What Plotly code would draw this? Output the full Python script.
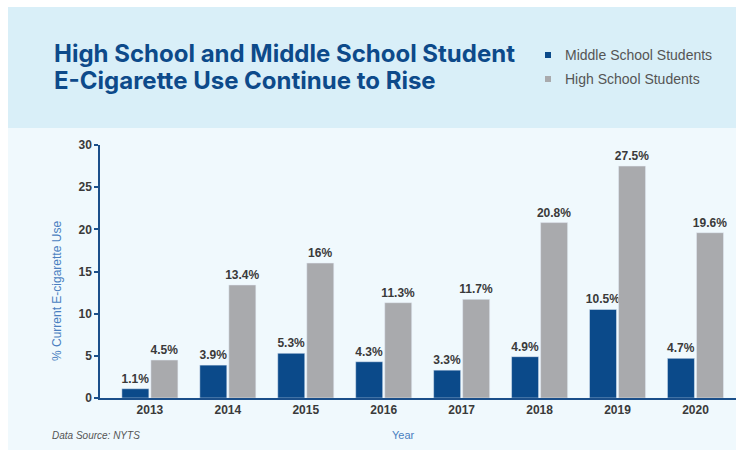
import plotly.graph_objects as go

years = ["2013", "2014", "2015", "2016", "2017", "2018", "2019", "2020"]
middle_school = [1.1, 3.9, 5.3, 4.3, 3.3, 4.9, 10.5, 4.7]
high_school = [4.5, 13.4, 16, 11.3, 11.7, 20.8, 27.5, 19.6]
middle_labels = ["1.1%", "3.9%", "5.3%", "4.3%", "3.3%", "4.9%", "10.5%", "4.7%"]
high_labels = ["4.5%", "13.4%", "16%", "11.3%", "11.7%", "20.8%", "27.5%", "19.6%"]
series_names = ["Middle School Students", "High School Students"]
title_lines = ["High School and Middle School Student", "E-Cigarette Use Continue to Rise"]
y_ticks = [0, 5, 10, 15, 20, 25, 30]

# figure fills the page (body margin removed)
W, H = 736, 453
PL, PR, PT, PB = 100, 736, 145, 398   # plot area in pixels
L, T, R, B = PL, PT, W - PR, H - PB
PW, PH = W - L - R, H - T - B

def px(x):
    return (x - L) / PW

def py(y):
    return (H - B - y) / PH

BLUE = "#0b4a8a"
GRAY = "#a9aaad"
LABEL = "#3a3a3a"
AXIS = "#1b4f8a"

fig = go.Figure()
for vals, labels, color, name in [(middle_school, middle_labels, BLUE, series_names[0]),
                                  (high_school, high_labels, GRAY, series_names[1])]:
    fig.add_trace(go.Bar(x=years, y=vals, marker_color=color, text=labels, name=name,
                         textposition="outside", cliponaxis=False, showlegend=False,
                         constraintext="none", textangle=0,
                         textfont=dict(family="Arial", size=12, color=LABEL, weight="bold")))

shapes = [
    dict(type="rect", xref="paper", yref="paper", x0=px(8), x1=px(736), y0=py(7), y1=py(128),
         fillcolor="#d9eff8", line_width=0, layer="below"),
    dict(type="rect", xref="paper", yref="paper", x0=px(8), x1=px(736), y0=py(128), y1=py(450),
         fillcolor="#f0f9fd", line_width=0, layer="below"),
]

title_html = "<br>".join("<span style='font-size:24px'>%s</span>" % t for t in title_lines)
annotations = [
    dict(x=px(52), y=py(67), xref="paper", yref="paper", xanchor="left", yanchor="middle",
         showarrow=False, align="left", text="<b>" + title_html + "</b>",
         font=dict(family="Inter", size=21, color="#0d4a8a")),
    dict(x=px(57), y=py(291), xref="paper", yref="paper", textangle=-90, showarrow=False,
         xanchor="center", yanchor="middle",
         text="% Current E-cigarette Use", font=dict(family="Arial", size=12, color="#4a7fc0")),
    dict(x=px(403), y=py(435), xref="paper", yref="paper", showarrow=False,
         xanchor="center", yanchor="middle",
         text="Year", font=dict(family="Arial", size=11, color="#4a7fc0")),
    dict(x=px(50), y=py(435), xref="paper", yref="paper", xanchor="left", yanchor="middle",
         showarrow=False,
         text="<i>Data Source: NYTS</i>", font=dict(family="Arial", size=10, color="#555555")),
]

# legend built from shapes + annotations
for i, (name, color) in enumerate(zip(series_names, [BLUE, GRAY])):
    yc = 55 + i * 24
    shapes.append(dict(type="rect", xref="paper", yref="paper", x0=px(545), x1=px(551),
                       y0=py(yc + 3), y1=py(yc - 3), fillcolor=color, line_width=0))
    annotations.append(dict(x=px(563), y=py(yc), xref="paper", yref="paper", xanchor="left",
                            yanchor="middle", showarrow=False, text=name,
                            font=dict(family="Arial", size=14, color="#555555")))

fig.update_layout(
    width=W, height=H,
    margin=dict(l=L, r=R, t=T, b=B),
    paper_bgcolor="white", plot_bgcolor="rgba(0,0,0,0)",
    barmode="group", bargap=0.255, bargroupgap=0.07,
    shapes=shapes, annotations=annotations,
    showlegend=False,
    font=dict(family="Arial"),
)
fig.update_xaxes(type="category", range=[-0.64, 7.52], showline=True, linecolor=AXIS,
                 linewidth=1.5, showgrid=False, ticks="",
                 tickfont=dict(family="Arial", size=12, color=LABEL, weight="bold"))
fig.update_yaxes(range=[0, 30], tickvals=y_ticks, showline=True, linecolor=AXIS,
                 linewidth=1.5, showgrid=False, zeroline=False, ticks="outside", ticklen=4,
                 tickcolor=AXIS, tickwidth=1.5,
                 tickfont=dict(family="Arial", size=12, color=LABEL, weight="bold"))

fig.write_html("out.html",
               config={"displayModeBar": False},
               post_script="document.body.style.margin='0';"
                           "document.documentElement.style.overflow='hidden';"
                           "document.body.style.overflow='hidden';")
